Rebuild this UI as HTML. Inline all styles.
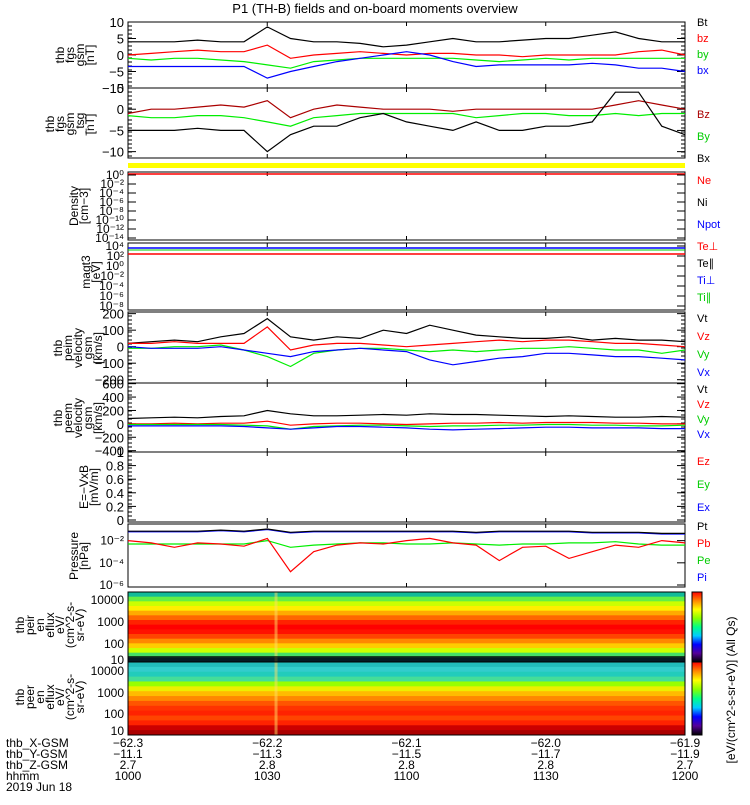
<!DOCTYPE html>
<html><head><meta charset="utf-8"><style>
body{margin:0;background:#fff;width:750px;height:800px;overflow:hidden}
svg{font-family:"Liberation Sans",sans-serif}
</style></head><body>
<svg id="s" width="750" height="800"></svg>
<script>
// ---- data (25 samples, 10:00-12:00 every 5 min) ----
const times=[0,5,10,15,20,25,30,35,40,45,50,55,60,65,70,75,80,85,90,95,100,105,110,115,120];
const bt=[4,4,4,4.5,4,4,8.5,5,4,4,3.5,2.5,3,4,5,4,4,4.5,5,5,6,7,5,4,4];
const bz=[0,0.5,1,1.5,1,1,3,-1,0,0.5,1,0.5,0,0.5,0.5,0,0,-0.5,0,0,0,0,1,1.5,0];
const by=[-1,-1.5,-1,-1,-1.5,-2,-3,-4,-2,-1.5,-1,-1,-1,-1,-1,-1.5,-2,-1.5,-1,-1.5,-1,-1,-1,-1,-1];
const bx=[-3.5,-3.5,-3.5,-3.5,-3.5,-3.5,-7,-5,-3.5,-2,-1,0,1,0,-2,-3.5,-3,-3,-3,-3,-2.5,-3,-4,-4,-5];
const tbz=[-1,0,0,0.5,1,0.5,2,-2,0,1,0.5,0,0,0,-0.5,0,0,0,0,0,0,1,2,1,0];
const tby=[-1.5,-2,-2,-1.5,-1.5,-2,-3,-4,-2,-1.5,-1,-1,-1,-1,-1,-2,-1.5,-1,-1,-1.5,-1.5,-1,-1.5,-1,-1];
const tbx=[-5,-5,-5,-4.5,-5,-5,-10,-6,-4,-4,-2,-1,-3,-4,-5,-3,-5,-5,-4,-4,-3,4,4,-4,-6];
const vt=[20,30,40,30,60,80,170,60,40,60,50,100,80,130,100,70,60,50,50,60,40,50,40,40,30];
const vz=[20,20,30,20,20,20,120,-20,10,20,20,10,0,10,20,30,40,30,40,40,30,20,20,10,0];
const vy=[-10,-10,0,0,10,-20,-60,-120,-40,-20,-10,-10,-20,-30,-20,-30,-20,-10,-10,0,-10,-20,-20,-40,-20];
const vx=[0,-10,-10,-10,0,-20,-40,-60,-30,-20,-10,-20,-30,-80,-110,-90,-70,-60,-40,-40,-50,-60,-60,-70,-80];
const et=[80,90,100,90,110,120,200,150,120,120,130,140,130,150,140,140,130,120,110,120,110,100,100,110,100];
const ez=[0,0,10,0,10,10,40,-20,0,10,10,0,-10,0,10,10,20,10,20,20,20,10,10,0,0];
const ey=[-10,-10,-10,-10,-10,-20,-30,-80,-40,-30,-20,-20,-30,-40,-30,-30,-20,-20,-10,-10,-20,-20,-30,-30,-20];
const ex=[-30,-30,-30,-30,-30,-40,-60,-80,-60,-40,-40,-50,-60,-80,-90,-80,-70,-60,-50,-50,-60,-60,-60,-70,-70];
const pt=[-1.2,-1.2,-1.2,-1.2,-1.1,-1.2,-1.0,-1.3,-1.2,-1.2,-1.2,-1.2,-1.2,-1.2,-1.2,-1.3,-1.2,-1.2,-1.2,-1.2,-1.3,-1.3,-1.3,-1.4,-1.4];
const pb=[-2.0,-2.2,-2.6,-2.2,-2.3,-2.5,-1.8,-4.8,-3.0,-2.4,-2.2,-2.3,-2.0,-1.8,-2.2,-2.4,-3.8,-2.6,-2.5,-3.6,-3.0,-2.4,-2.6,-2.0,-2.2];
const pe=[-2.3,-2.3,-2.3,-2.3,-2.3,-2.3,-2.0,-2.6,-2.4,-2.3,-2.2,-2.2,-2.3,-2.3,-2.2,-2.3,-2.4,-2.3,-2.3,-2.2,-2.2,-2.1,-2.3,-2.4,-2.4];
const ticksTime=["1000","1030","1100","1130","1200"];
const xgsm=["-62.3","-62.2","-62.1","-62.0","-61.9"];
const ygsm=["-11.1","-11.3","-11.5","-11.7","-11.9"];
const zgsm=["2.7","2.8","2.8","2.8","2.7"];
const ionColors=["#1b9","#6e4","#cf0","#fe0","#fa0","#f60","#f20","#f00","#f10","#f40","#f80","#fc0","#cf0","#4d6","#157"];
const eleColors=["#2bb","#3cc","#2cb","#4d9","#9f0","#ee0","#fb0","#f80","#f50","#f30","#f20","#f40","#f20","#c00","#a00"];

const NS="http://www.w3.org/2000/svg",S=document.getElementById('s');
const X0=128,X1=685;
const xs=t=>X0+(X1-X0)*t/120;
function el(tag,a,p){const e=document.createElementNS(NS,tag);for(const k in a)e.setAttribute(k,a[k]);(p||S).appendChild(e);return e;}
function txt(x,y,s,o){o=o||{};const e=el('text',{x:x,y:y,'font-size':o.fs||12,fill:o.c||'#000','text-anchor':o.a||'start'});if(o.r)e.setAttribute('transform','rotate(-90 '+x+' '+y+')');e.textContent=s;return e;}
function line(vals,ys,c,n){const d=vals.map((v,i)=>(i?'L':'M')+xs(times[i]).toFixed(1)+' '+ys(v).toFixed(1)).join('');const p=el('path',{d:d,fill:'none',stroke:c,'stroke-width':1.2});}
function frame(y0,y1,n){const r=el('rect',{x:X0,y:y0,width:X1-X0,height:y1-y0,fill:'none',stroke:'#000','stroke-width':1});
 for(let i=0;i<=4;i++){const x=xs(i*30);el('line',{x1:x,x2:x,y1:y1,y2:y1-4,stroke:'#000'});el('line',{x1:x,x2:x,y1:y0,y2:y0+4,stroke:'#000'});}}
function lin(lo,hi,y0,y1){return v=>y1-(v-lo)/(hi-lo)*(y1-y0);}
function yt(ys,vals,y0,y1,minor){vals.forEach(v=>{const y=ys(v);txt(X0-4,y+5,String(v).replace('-','−'),{a:'end',fs:13,n:'y-tick'});el('line',{x1:X0,x2:X0+8,y1:y,y2:y,stroke:'#000'});el('line',{x1:X1,x2:X1-8,y1:y,y2:y,stroke:'#000'});});
 for(let y=y0;y<=y1;y+=minor){el('line',{x1:X0,x2:X0+4,y1:y,y2:y,stroke:'#000'});el('line',{x1:X1,x2:X1-4,y1:y,y2:y,stroke:'#000'});}}
function ylab(lines,x,yc){lines.forEach((s,i)=>txt(x+i*10,yc,s,{r:1,a:'middle',fs:12,n:'y-axis-title'}));}
function leg(items,y0,dy){items.forEach((it,i)=>txt(697,y0+i*dy,it[0],{c:it[1],fs:11,n:'legend-entry'}));}

txt(375,13,"P1 (TH-B) fields and on-board moments overview",{a:'middle',fs:13,n:'chart-title'});
// panel 1
let ys=lin(-10,10,22,88);frame(22,88,'fgs-gsm-panel');yt(ys,[10,5,0,-5,-10],22,88,4);
line(bt,ys,'#000','bt-line');line(bz,ys,'#f00','bz-line');line(by,ys,'#0e0','by-line');line(bx,ys,'#00f','bx-line');
ylab(["thb","fgs","gsm","[nT]"],64,55);leg([["Bt","#000"],["bz","#f00"],["by","#0c0"],["bx","#00f"]],26,16);
// panel 2
ys=lin(-11.5,5,88,158);frame(88,158,'fgs-tsg-panel');yt(ys,[5,0,-5,-10],88,158,4);
line(tbz,ys,'#a00','bz-tsg-line');line(tby,ys,'#0e0','by-tsg-line');line(tbx,ys,'#000','bx-tsg-line');
ylab(["thb","fgs","gsm","_tsg","[nT]"],54,124);leg([["Bz","#a00"],["By","#0c0"],["Bx","#000"]],118,22);
el('rect',{x:X0,y:163,width:X1-X0,height:5,fill:'#ff0'});
// panel density
frame(172,240,'density-panel');el('line',{x1:X0,x2:X1,y1:174,y2:174,stroke:'#f00','stroke-width':1.5});
["10⁰","10⁻²","10⁻⁴","10⁻⁶","10⁻⁸","10⁻¹⁰","10⁻¹²","10⁻¹⁴"].forEach((s,i)=>{const y=175+i*9;txt(X0-4,y+4,s,{a:'end',fs:12,n:'y-tick'});el('line',{x1:X1,x2:X1-8,y1:y,y2:y,stroke:'#000'});el('line',{x1:X0,x2:X0+8,y1:y,y2:y,stroke:'#000'});});
ylab(["Density","[cm−3]"],78,206);leg([["Ne","#f00"],["Ni","#000"],["Npot","#00f"]],184,22);
// magt3
frame(243,310,'temperature-panel');el('line',{x1:X0,x2:X1,y1:248,y2:248,stroke:'#00f','stroke-width':1.5});el('line',{x1:X0,x2:X1,y1:250,y2:250,stroke:'#0c0'});el('line',{x1:X0,x2:X1,y1:254,y2:254,stroke:'#f00','stroke-width':1.5});
["10⁴","10²","10⁰","10⁻²","10⁻⁴","10⁻⁶","10⁻⁸"].forEach((s,i)=>{const y=246+i*10;txt(X0-4,y+4,s,{a:'end',fs:12,n:'y-tick'});el('line',{x1:X1,x2:X1-8,y1:y,y2:y,stroke:'#000'});});
ylab(["magt3","[eV]"],90,272);leg([["Te⊥","#f00"],["Te∥","#000"],["Ti⊥","#00f"],["Ti∥","#0c0"]],250,17);
// peim velocity
ys=lin(-220,210,312,383);frame(312,383,'ion-velocity-panel');yt(ys,[200,100,0,-100,-200],312,383,4);
line(vt,ys,'#000','vt-line');line(vz,ys,'#f00','vz-line');line(vy,ys,'#0e0','vy-line');line(vx,ys,'#00f','vx-line');
ylab(["thb","peim","velocity","gsm","[km/s]"],62,348);leg([["Vt","#000"],["Vz","#f00"],["Vy","#0c0"],["Vx","#00f"]],322,18);
// peem velocity
ys=lin(-420,610,383,452);frame(383,452,'electron-velocity-panel');yt(ys,[600,400,200,0,-200,-400],383,452,4);
line(et,ys,'#000','vt-e-line');line(ez,ys,'#f00','vz-e-line');line(ey,ys,'#0e0','vy-e-line');line(ex,ys,'#00f','vx-e-line');
ylab(["thb","peem","velocity","gsm","[km/s]"],62,418);leg([["Vt","#000"],["Vz","#f00"],["Vy","#0c0"],["Vx","#00f"]],393,15);
// E field
ys=lin(0,1,452,520);frame(452,522,'efield-panel');yt(ys,[1.0,0.8,0.6,0.4,0.2,0.0],452,520,4);
ylab(["E=−VxB","[mV/m]"],88,487);leg([["Ez","#f00"],["Ey","#0c0"],["Ex","#00f"]],465,23);
// pressure
ys=lin(-6,-0.5,524,585);frame(524,587,'pressure-panel');
[[-2,"10⁻²"],[-4,"10⁻⁴"],[-6,"10⁻⁶"]].forEach(a=>{const y=ys(a[0]);txt(X0-4,y+4,a[1],{a:'end',fs:12,n:'y-tick'});el('line',{x1:X1,x2:X1-8,y1:y,y2:y,stroke:'#000'});});
line(pt,ys,'#00f','pi-line');line(pt.map(v=>v+0.05),ys,'#000','pt-line');line(pe,ys,'#0e0','pe-line');line(pb,ys,'#f00','pb-line');
ylab(["Pressure","[nPa]"],78,556);leg([["Pt","#000"],["Pb","#f00"],["Pe","#0c0"],["Pi","#00f"]],530,17);
// spectrograms
function spec(y0,y1,cols,n){const h=(y1-y0)/cols.length;const g=el('g',{});
 cols.forEach((c,i)=>el('rect',{x:X0,y:y0+i*h,width:X1-X0,height:h+0.5,fill:c},g));
 el('rect',{x:xs(32)-2,y:y0,width:3,height:y1-y0,fill:'#fd6',opacity:0.5},g);
 el('rect',{x:X0,y:y0,width:X1-X0,height:y1-y0,fill:'none',stroke:'#000'},g);}
spec(592,662,ionColors,'ion-spectrogram');spec(662,735,eleColors,'electron-spectrogram');
el('rect',{x:X0,y:656,width:X1-X0,height:6,fill:'#000',opacity:0.7});
[[10000,600],[1000,622],[100,644],[10,660]].forEach(a=>txt(X0-4,a[1]+4,String(a[0]),{a:'end',fs:12,n:'y-tick'}));
[[10000,671],[1000,693],[100,714],[10,731]].forEach(a=>txt(X0-4,a[1]+4,String(a[0]),{a:'end',fs:12,n:'y-tick'}));
ylab(["thb","peir","en","eflux","eV/","(cm^2-s-","sr-eV)"],24,625);
ylab(["thb","peer","en","eflux","eV/","(cm^2-s-","sr-eV)"],24,697);
// colorbars
const gd=el('linearGradient',{id:'cb',x1:0,y1:1,x2:0,y2:0},el('defs',{}));
["#000","#509","#00f","#0cf","#0f8","#8f0","#ff0","#f80","#f00"].forEach((c,i)=>el('stop',{offset:i/8,'stop-color':c},gd));
el('rect',{x:692,y:592,width:10,height:70,fill:'url(#cb)',stroke:'#000'});el('rect',{x:692,y:662,width:10,height:73,fill:'url(#cb)',stroke:'#000'});
txt(735,690,"[eV/(cm^2-s-sr-eV)] (All Qs)",{r:1,a:'middle',fs:12,n:'colorbar-title'});
// bottom labels
[["thb_X-GSM",747],["thb_Y-GSM",758],["thb_Z-GSM",769],["hhmm",780],["2019 Jun 18",791]].forEach(a=>txt(6,a[1],a[0],{fs:12,n:'axis-row-label'}));
for(let i=0;i<5;i++){const x=xs(i*30);[[xgsm,747],[ygsm,758],[zgsm,769],[ticksTime,780]].forEach(a=>txt(x,a[1],a[0][i].replace('-','−'),{a:'middle',fs:12,n:'x-tick'}));}
</script>
</body></html>
